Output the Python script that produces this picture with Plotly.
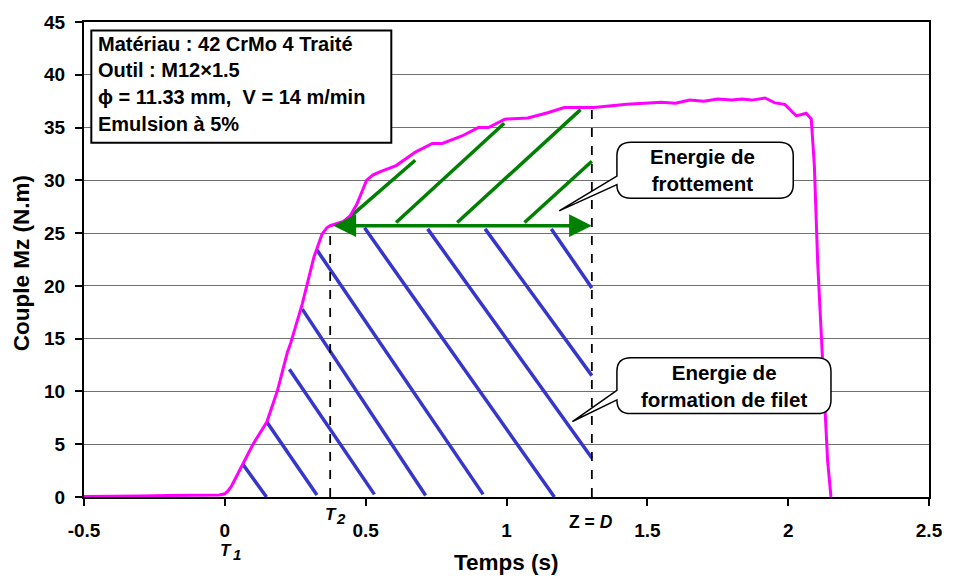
import plotly.graph_objects as go

# ---- measured torque signal ----
time_s = [-0.5, -0.4, -0.3, -0.2, -0.1, -0.02, 0.0, 0.012, 0.023, 0.04, 0.064, 0.1,
          0.149, 0.187, 0.222, 0.234, 0.275, 0.316, 0.345, 0.362, 0.374, 0.4, 0.421,
          0.444, 0.468, 0.485, 0.503, 0.525, 0.55, 0.608, 0.678, 0.737, 0.772, 0.842,
          0.9, 0.936, 0.994, 1.076, 1.146, 1.205, 1.31, 1.427, 1.485, 1.55, 1.6, 1.65,
          1.7, 1.75, 1.8, 1.836, 1.87, 1.918, 1.953, 1.988, 2.029, 2.064, 2.082, 2.093,
          2.105, 2.123, 2.14, 2.152]
torque_nm = [0.05, 0.05, 0.1, 0.15, 0.15, 0.2, 0.3, 0.6, 1.0, 1.9, 3.1, 5.0,
             7.1, 10.1, 13.7, 14.6, 18.3, 22.7, 24.9, 25.5, 25.7, 25.9, 26.1,
             26.6, 27.7, 28.8, 30.0, 30.5, 30.8, 31.4, 32.7, 33.5, 33.5, 34.2,
             35.0, 35.0, 35.8, 35.9, 36.4, 36.9, 36.9, 37.2, 37.3, 37.4, 37.3, 37.6,
             37.5, 37.7, 37.6, 37.7, 37.6, 37.8, 37.34, 37.2, 36.1, 36.35, 35.8, 31.4,
             22.1, 12.8, 3.45, 0.0]

# ---- characteristic instants ----
t1 = 0.0
t2 = 0.374
t2_torque = 25.7
t_zd = 1.303
t_zd_torque = 36.9

# ---- hatching: thread-forming energy (blue) ----
form_x0 = [0.064, 0.149, 0.229, 0.275, 0.327, 0.496, 0.720, 0.924, 1.159]
form_y0 = [3.1, 7.1, 12.1, 17.8, 23.4, 25.5, 25.4, 25.4, 25.4]
form_x1 = [0.148, 0.327, 0.531, 0.713, 0.917, 1.170, 1.303, 1.303, 1.303]
form_y1 = [0.0, 0.2, 0.25, 0.15, 0.25, 0.0, 3.7, 11.5, 19.8]

# ---- hatching: friction energy (green) ----
fric_x0 = [0.421, 0.608, 0.825, 1.064]
fric_y0 = [26.0, 26.0, 26.0, 26.0]
fric_x1 = [0.676, 0.992, 1.263, 1.303]
fric_y1 = [31.9, 35.4, 36.7, 31.8]

# ---- axis ticks ----
x_range = [-0.5, 2.5]
y_range = [0, 45]
x_ticks = [-0.5, 0, 0.5, 1, 1.5, 2, 2.5]
x_tick_text = ["-0.5", "0", "0.5", "1", "1.5", "2", "2.5"]
y_ticks = [0, 5, 10, 15, 20, 25, 30, 35, 40, 45]

info_lines = ["Matériau : 42 CrMo 4 Traité", "Outil : M12×1.5",
              "ϕ = 11.33 mm,  V = 14 m/min", "Emulsion à 5%"]

FONT = "Liberation Sans, Arial, sans-serif"
MAGENTA = "#FF00FF"
BLUE = "#3636CC"
GREEN = "#008000"


def segments(x0, y0, x1, y1):
    xs, ys = [], []
    for a, b, c, d in zip(x0, y0, x1, y1):
        xs += [a, c, None]
        ys += [b, d, None]
    return xs, ys


def px(x):
    """data x -> paper fraction (text may sit outside the axes)"""
    return (x - x_range[0]) / (x_range[1] - x_range[0])


def py(y):
    return (y - y_range[0]) / (y_range[1] - y_range[0])


fig = go.Figure()

bx, by = segments(form_x0, form_y0, form_x1, form_y1)
fig.add_trace(go.Scatter(x=bx, y=by, mode="lines",
                         line=dict(color=BLUE, width=3.5), hoverinfo="skip"))
gx, gy = segments(fric_x0, fric_y0, fric_x1, fric_y1)
fig.add_trace(go.Scatter(x=gx, y=gy, mode="lines",
                         line=dict(color=GREEN, width=3.5), hoverinfo="skip"))

# vertical markers at T2 and Z = D
fig.add_trace(go.Scatter(x=[t2, t2, None, t_zd, t_zd], y=[0, t2_torque, None, 0, t_zd_torque],
                         mode="lines", line=dict(color="black", width=1.8, dash="dash"),
                         hoverinfo="skip"))

fig.add_trace(go.Scatter(x=time_s, y=torque_nm, mode="lines",
                         line=dict(color=MAGENTA, width=3), name="Mz"))


def callout_path(xl, xr, yb, yt, tip, base_hi, rx=0.05, ry=1.3):
    tx, ty = tip
    return (f"M{xl},{base_hi} L{xl},{yt - ry} Q{xl},{yt} {xl + rx},{yt} "
            f"L{xr - rx},{yt} Q{xr},{yt} {xr},{yt - ry} L{xr},{yb + ry} "
            f"Q{xr},{yb} {xr - rx},{yb} L{xl + rx},{yb} Q{xl},{yb} {xl},{yb + ry} "
            f"L{tx},{ty} Z")


shapes = [
    dict(type="rect", xref="x", yref="y", x0=-0.474, x1=0.591, y0=33.55, y1=44.2,
         line=dict(color="black", width=2), fillcolor="white", layer="above"),
    dict(type="path", xref="x", yref="y",
         path=callout_path(1.392, 2.018, 28.3, 33.6, (1.187, 27.1), 30.4),
         line=dict(color="black", width=1.5), fillcolor="white", layer="above"),
    dict(type="path", xref="x", yref="y",
         path=callout_path(1.392, 2.152, 7.9, 13.2, (1.234, 7.15), 10.1),
         line=dict(color="black", width=1.5), fillcolor="white", layer="above"),
]

bold = dict(family=FONT, color="black", weight="bold")


def label(x, y, text, size, xanchor="center", **kw):
    return dict(x=px(x), y=py(y), xref="paper", yref="paper", text=text,
                showarrow=False, xanchor=xanchor, yanchor="middle",
                font=dict(size=size, **bold), **kw)


# double arrow between T2 and Z = D
annotations = [
    dict(x=t_zd, y=t2_torque, ax=t2 + 0.006, ay=t2_torque,
         xref="x", yref="y", axref="x", ayref="y", text="",
         showarrow=True, arrowhead=2, arrowside="end+start",
         arrowsize=1.3, arrowwidth=3.5, arrowcolor=GREEN,
         standoff=0, startstandoff=0),
]

for txt, yv in zip(info_lines, [42.93, 40.49, 37.94, 35.37]):
    annotations.append(label(-0.458, yv, txt, 20, xanchor="left"))

annotations += [
    label(1.695, 31.0, "Energie de<br>frottement", 20.5, align="center"),
    label(1.772, 10.5, "Energie de<br>formation de filet", 20.5, align="center"),
    # instants below the time axis
    label(0.377, -1.62, "<i>T</i>", 17),
    label(0.412, -1.99, "<i>2</i>", 15),
    label(0.003, -5.05, "<i>T</i>", 17),
    label(0.043, -5.45, "<i>1</i>", 15),
    label(t_zd - 0.003, -2.33, "Z = <i>D</i>", 17.5),
    # axis titles
    label(1.0, -6.2, "Temps (s)", 22.5),
    label(-0.722, 22.2, "Couple Mz (N.m)", 22.5, textangle=-90),
]

fig.update_layout(
    width=955, height=579,
    margin=dict(l=84, r=17, t=14, b=82),
    paper_bgcolor="white", plot_bgcolor="white",
    showlegend=False,
    shapes=shapes, annotations=annotations,
    xaxis=dict(range=x_range, tickvals=x_ticks, ticktext=x_tick_text,
               showgrid=False, zeroline=False, showline=True, linewidth=2,
               linecolor="black", mirror=True, ticks="outside", ticklen=7,
               tickwidth=1.5, tickcolor="black", ticklabelstandoff=8,
               tickfont=dict(size=19, **bold)),
    yaxis=dict(range=y_range, tickvals=y_ticks,
               showgrid=True, gridcolor="#707070", gridwidth=1, zeroline=False,
               showline=True, linewidth=2, linecolor="black", mirror=True,
               ticks="outside", ticklen=7, tickwidth=1.5, tickcolor="black",
               ticklabelstandoff=6, tickfont=dict(size=19, **bold)),
)

fig.write_html("out.html")
